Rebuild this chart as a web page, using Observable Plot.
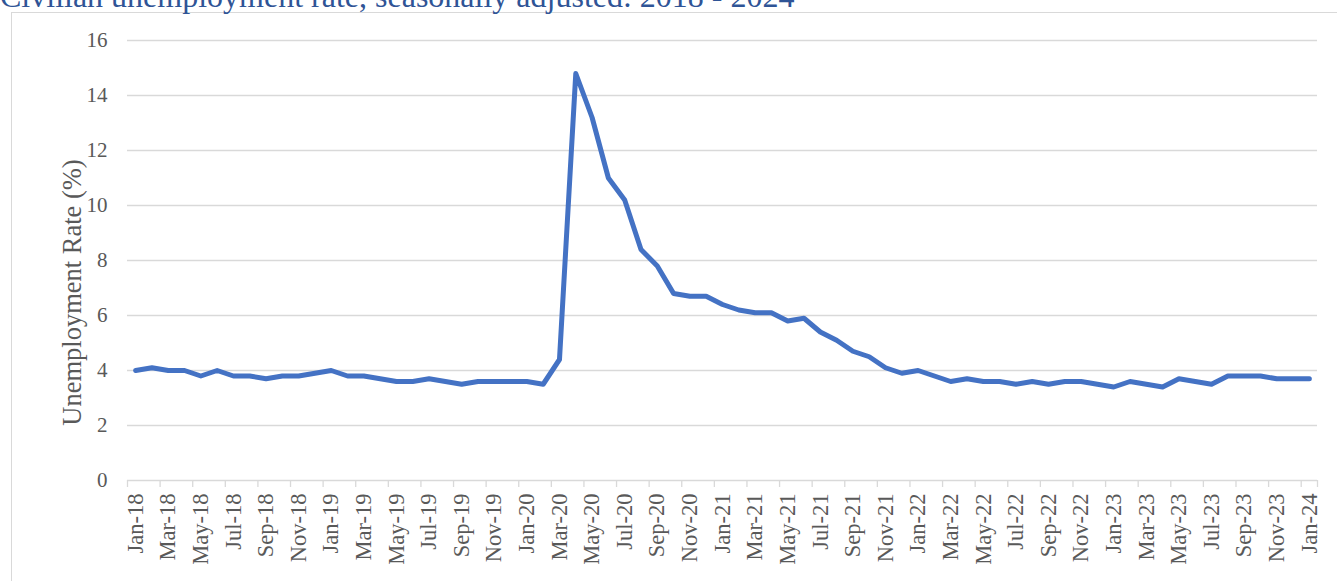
<!DOCTYPE html>
<html>
<head>
<meta charset="utf-8">
<script src="https://cdn.jsdelivr.net/npm/d3@7"></script>
<script src="https://cdn.jsdelivr.net/npm/@observablehq/plot@0.6"></script>
<style>
  html, body { margin: 0; padding: 0; background: #ffffff; overflow: hidden; }
  #wrap { position: relative; width: 1337px; height: 581px; overflow: hidden; }
  #title { position: absolute; left: 0px; top: -20px; font-family: "Liberation Serif", "Times New Roman", serif; font-size: 32px; line-height: 32px; color: #2F5496; white-space: nowrap; z-index: 2; }
  #border { position: absolute; left: 11px; top: 12px; width: 1500px; height: 1000px; border: 1px solid #d9d9d9; box-sizing: border-box; z-index: 1; pointer-events: none; }
  #chart { position: absolute; left: 0; top: 0; }
</style>
</head>
<body>
<div id="wrap">
  <div id="title">Civilian unemployment rate, seasonally adjusted: 2018 - 2024</div>
  <div id="border"></div>
  <div id="chart"></div>
</div>
<script>
const monthNames = ["Jan","Feb","Mar","Apr","May","Jun","Jul","Aug","Sep","Oct","Nov","Dec"];
const years = ["18","19","20","21","22","23","24"];

const rate2018 = [4.0, 4.1, 4.0, 4.0, 3.8, 4.0, 3.8, 3.8, 3.7, 3.8, 3.8, 3.9];
const rate2019 = [4.0, 3.8, 3.8, 3.7, 3.6, 3.6, 3.7, 3.6, 3.5, 3.6, 3.6, 3.6];
const rate2020 = [3.6, 3.5, 4.4, 14.8, 13.2, 11.0, 10.2, 8.4, 7.8, 6.8, 6.7, 6.7];
const rate2021 = [6.4, 6.2, 6.1, 6.1, 5.8, 5.9, 5.4, 5.1, 4.7, 4.5, 4.1, 3.9];
const rate2022 = [4.0, 3.8, 3.6, 3.7, 3.6, 3.6, 3.5, 3.6, 3.5, 3.6, 3.6, 3.5];
const rate2023 = [3.4, 3.6, 3.5, 3.4, 3.7, 3.6, 3.5, 3.8, 3.8, 3.8, 3.7, 3.7];
const rate2024 = [3.7];

const yTicks = [0, 2, 4, 6, 8, 10, 12, 14, 16];
const yLabel = "Unemployment Rate (%)";

const allRates = [rate2018, rate2019, rate2020, rate2021, rate2022, rate2023, rate2024];
const labels = [];
const data = [];
allRates.forEach((arr, yi) => {
  arr.forEach((v, mi) => {
    const lab = monthNames[mi] + "-" + years[yi];
    data.push({i: labels.length, label: lab, rate: v});
    labels.push(lab);
  });
});
const n = labels.length;
const labelIdx = labels.map((d, i) => i).filter(i => i % 2 === 0);
const boundaries = labelIdx.map(i => i - 0.5).concat([n - 0.5]);

const font = '"Liberation Serif", "Times New Roman", serif';

const chart = Plot.plot({
  width: 1337,
  height: 581,
  marginLeft: 127,
  marginRight: 20,
  marginTop: 40,
  marginBottom: 101,
  style: {fontFamily: font, color: "#595959", background: "transparent", overflow: "visible"},
  x: {type: "linear", domain: [-0.5, n - 0.5]},
  y: {domain: [0, 16]},
  marks: [
    Plot.gridY(yTicks, {stroke: "#d9d9d9", strokeOpacity: 1, strokeWidth: 1.3}),
    Plot.axisY(yTicks, {tickSize: 0, tickPadding: 20, fontSize: 21, label: null, fill: "#595959"}),
    Plot.axisX(boundaries, {tickSize: 7, stroke: "#d9d9d9", strokeOpacity: 1, strokeWidth: 1.3, tickFormat: () => "", label: null}),
    Plot.axisX(labelIdx, {tickSize: 0, tickPadding: 13, tickRotate: -90, tickFormat: i => labels[i], fontSize: 22.5, label: null, fill: "#595959"}),
    Plot.text([yLabel], {text: d => d, frameAnchor: "left", textAnchor: "middle", rotate: -90, dx: -55, dy: 32, fontSize: 26.5, fill: "#595959"}),
    Plot.line(data, {x: "i", y: "rate", stroke: "#4472C4", strokeWidth: 5, strokeLinejoin: "round", strokeLinecap: "round"})
  ]
});
document.getElementById("chart").appendChild(chart);
</script>
</body>
</html>
